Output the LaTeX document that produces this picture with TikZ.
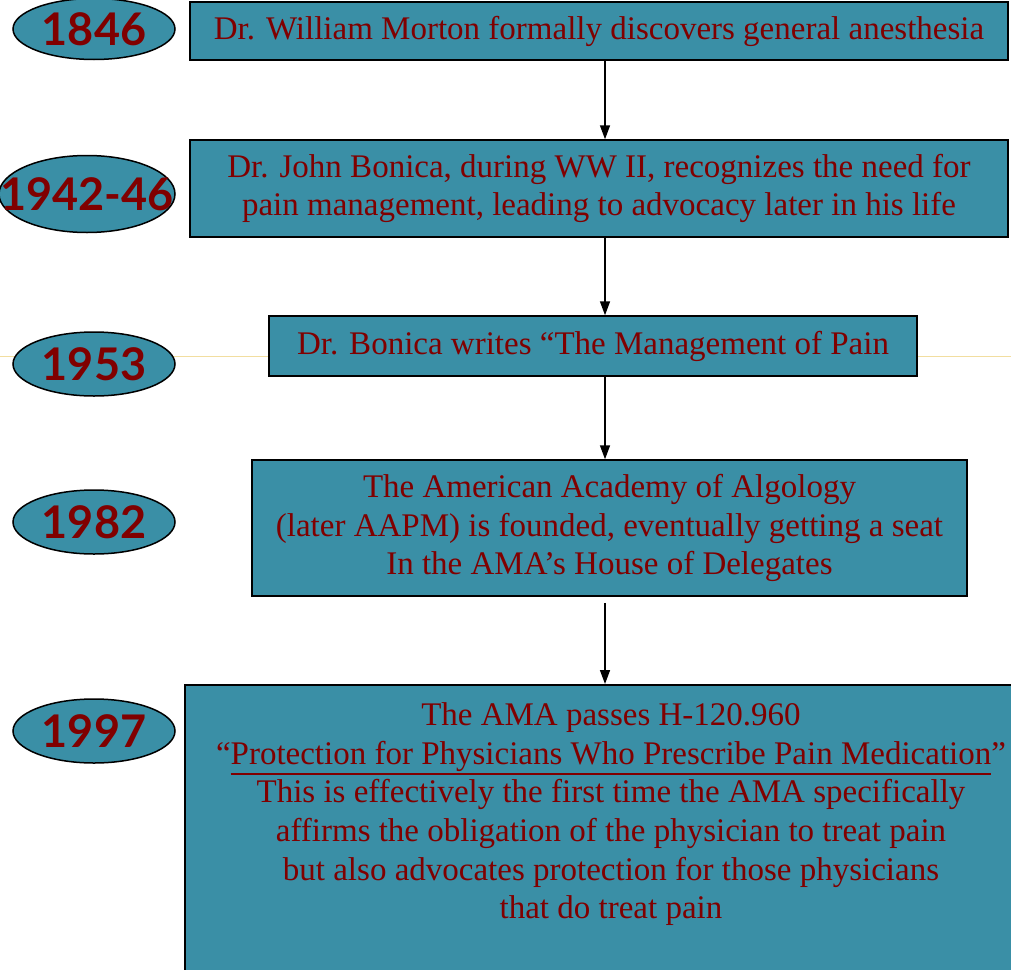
\documentclass[tikz,border=0pt]{standalone}
\usepackage{fontspec}
\setmainfont{Liberation Serif}
\newfontfamily\yearfont{Lato}[UprightFont=* Bold]
\usetikzlibrary{shapes.geometric,arrows.meta}
\definecolor{tealfill}{RGB}{58,143,166}
\definecolor{darkred}{RGB}{128,0,0}
\definecolor{guide}{RGB}{242,222,160}
\tikzset{
  yearnode/.style={ellipse,draw=black,line width=1.5pt,fill=tealfill,inner sep=0pt,
    text=darkred,font=\yearfont\fontsize{45}{45}\selectfont},
  eventbox/.style={rectangle,draw=black,line width=1.5pt,fill=tealfill,inner sep=0pt,
    text=darkred,align=center,font=\fontsize{33}{38.6}\selectfont},
  flow/.style={-{Triangle[length=14pt,width=10pt]},line width=1.5pt,black},
}
\newcommand{\yr}[1]{\makebox[0pt]{\raisebox{-0.36em}[0pt][0pt]{#1}}}
\newcommand{\thickul}[1]{\vtop{\hbox{#1}\kern1.5pt\hrule height 2.2pt}}
\begin{document}
\begin{tikzpicture}[x=1pt,y=-1pt]
\clip (0,0) rectangle (1011,969);
\fill[white] (0,0) rectangle (1011,969);
\draw[guide,line width=1pt] (0,356) coordinate (gl) -- (1011,356) coordinate (gr);
% year ellipses
\node[yearnode,minimum width=162pt,minimum height=61pt] (y1) at (94,29) {\yr{1846}};
\node[yearnode,minimum width=176pt,minimum height=77pt] (y2) at (87,194) {\yr{1942-46}};
\node[yearnode,minimum width=162pt,minimum height=64pt] (y3) at (94,364) {\yr{1953}};
\node[yearnode,minimum width=162pt,minimum height=64pt] (y4) at (94,522) {\yr{1982}};
\node[yearnode,minimum width=162pt,minimum height=64pt] (y5) at (94,731) {\yr{1997}};
% event boxes
\node[eventbox,minimum width=818pt,minimum height=58pt] (b1) at (599,31)
  {Dr. William Morton formally discovers general anesthesia};
\node[eventbox,minimum width=818pt,minimum height=97pt] (b2) at (599,188.5)
  {Dr. John Bonica, during WW II, recognizes the need for\\pain management, leading to advocacy later in his life};
\node[eventbox,minimum width=648pt,minimum height=60pt] (b3) at (593,346)
  {Dr. Bonica writes “The Management of Pain};
\node[eventbox,minimum width=715pt,minimum height=136pt] (b4) at (609.5,528)
  {The American Academy of Algology\\(later AAPM) is founded, eventually getting a seat\\In the AMA’s House of Delegates};
\node[eventbox,anchor=north,minimum width=852pt] (b5) at (611,684)
  {\parbox[t][290pt][t]{840pt}{\centering\vspace*{18pt}
  The AMA passes H-120.960\\
  “\thickul{Protection for Physicians Who Prescribe Pain Medication}”\\
  This is effectively the first time the AMA specifically\\
  affirms the obligation of the physician to treat pain\\
  but also advocates protection for those physicians\\
  that do treat pain}};
% connectors
\draw[flow] (b1.south -| 605,0) -- (b2.north -| 605,0);
\draw[flow] (b2.south -| 605,0) -- (b3.north -| 605,0);
\draw[flow] (b3.south -| 605,0) -- (b4.north -| 605,0);
\draw[flow] ([yshift=-6pt]b4.south -| 605,0) -- (b5.north -| 605,0);
\end{tikzpicture}
\end{document}
